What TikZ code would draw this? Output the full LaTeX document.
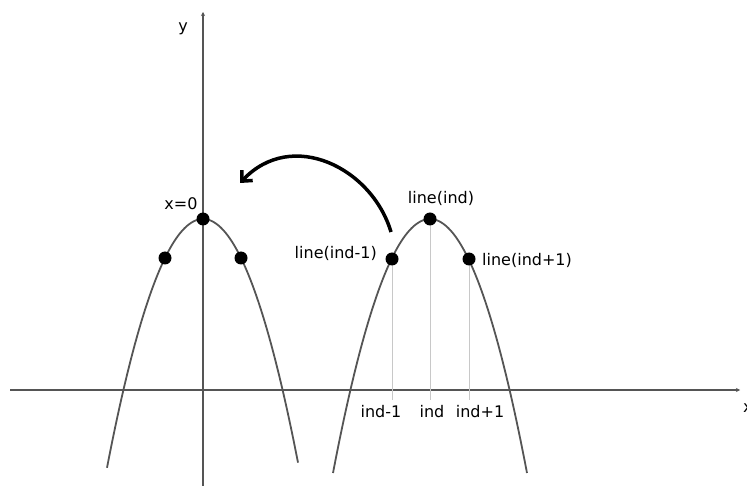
\documentclass[tikz,border=0pt]{standalone}
\usepackage{fontspec}
\setmainfont{DejaVu Sans}
\usetikzlibrary{arrows.meta,positioning}
\definecolor{axisgray}{HTML}{555555}
\definecolor{guidegray}{HTML}{C8C8C8}
\tikzset{
  axis/.style={draw=axisgray, line width=2.2pt, -{Stealth[length=4pt,width=4pt]}},
  curve/.style={draw=axisgray, line width=1.8pt, smooth, samples=80},
  dot/.style={circle, fill=black, inner sep=0pt, minimum size=13pt},
  guide/.style={draw=guidegray, line width=1pt},
  lbl/.style={font=\fontsize{16}{19}\selectfont, text=black, inner sep=1pt}
}
\begin{document}
\begin{tikzpicture}[x=1pt,y=-1pt]
\useasboundingbox (0,0) rectangle (747,486);
% axes
\coordinate (xL) at (10,390);
\coordinate (xR) at (740,390);
\coordinate (yB) at (203,486);
\coordinate (yT) at (203,12);
\draw[axis] (xL) -- (xR);
\draw[axis] (yB) -- (yT);
\node[lbl, anchor=west] (xlab) at (742,408) {x};
\node[lbl] (ylab) at (183,29) {y};
% parabolas
\draw[curve] plot[domain=107:298] (\x,{219+0.027*(\x-203)^2});
\draw[curve] plot[domain=333:527] (\x,{219+0.027*(\x-430)^2});
% guide lines
\coordinate (gm) at (392,400);
\coordinate (g0) at (430,400);
\coordinate (gp) at (469,400);
\draw[guide] (392,260) -- (gm);
\draw[guide] (430,219) -- (g0);
\draw[guide] (469,260) -- (gp);
% dots
\node[dot] (vtxL) at (203,219) {};
\node[dot] (ptLm) at (165,258) {};
\node[dot] (ptLp) at (241,258) {};
\node[dot] (vtxR) at (430,219) {};
\node[dot] (ptRm) at (392,259) {};
\node[dot] (ptRp) at (469,259) {};
% labels
\node[lbl] (lblZero) at (181,204) {x=0};
\node[lbl] (lblInd) at (441,198) {line(ind)};
\node[lbl, anchor=east] (lblIndm) at (378,253) {line(ind-1)};
\node[lbl, anchor=west] (lblIndp) at (481,260) {line(ind+1)};
\node[lbl] (tkm) at (381,412) {ind-1};
\node[lbl] (tk0) at (432,412) {ind};
\node[lbl] (tkp) at (480,412) {ind+1};
% move arrow
\coordinate (arrS) at (391,232);
\coordinate (arrE) at (240,183);
\draw[line width=3.5pt, -{Straight Barb[length=8pt,width=15pt]}] (arrS) .. controls (372,168) and (292,128) .. (arrE);
\end{tikzpicture}
\end{document}
